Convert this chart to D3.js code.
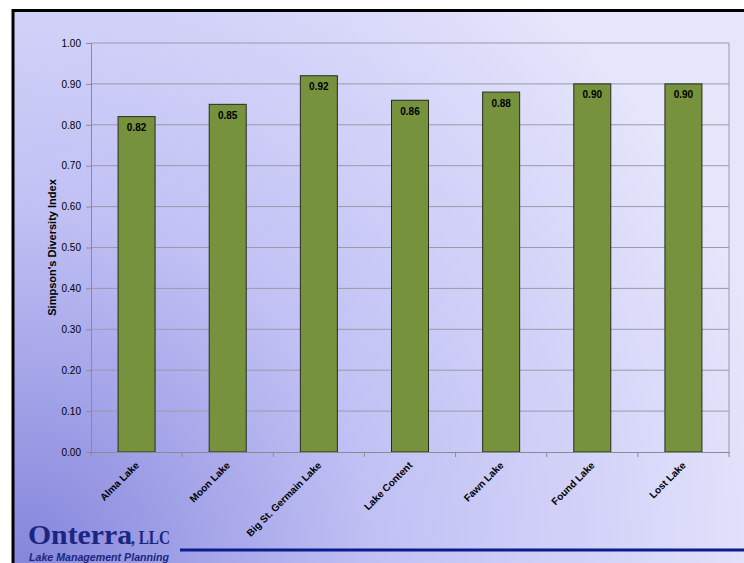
<!DOCTYPE html>
<html><head><meta charset="utf-8">
<script src="https://cdn.jsdelivr.net/npm/d3@7"></script>
<style>html,body{margin:0;padding:0;overflow:hidden;background:#fff}</style>
</head><body>
<script>
const categories = ["Alma Lake","Moon Lake","Big St. Germain Lake","Lake Content","Fawn Lake","Found Lake","Lost Lake"];
const values = [0.82,0.85,0.92,0.86,0.88,0.90,0.90];
const yTicks = [0,0.1,0.2,0.3,0.4,0.5,0.6,0.7,0.8,0.9,1.0];
const yTitle = "Simpson's Diversity Index";

const W=744,H=563;
const svg=d3.select("body").append("svg").attr("width",W).attr("height",H);
const defs=svg.append("defs");
const rg=defs.append("radialGradient").attr("id","bg").attr("gradientUnits","userSpaceOnUse")
  .attr("cx",20).attr("cy",563).attr("r",780);
rg.append("stop").attr("offset","0").attr("stop-color","#8585dc");
rg.append("stop").attr("offset","0.45").attr("stop-color","#c0c0f4");
rg.append("stop").attr("offset","0.75").attr("stop-color","#d4d4f9");
rg.append("stop").attr("offset","1").attr("stop-color","#e6e6fb");
svg.append("rect").attr("x",0).attr("y",0).attr("width",W).attr("height",H).attr("fill","#fff");
svg.append("rect").attr("x",12).attr("y",10).attr("width",W-12).attr("height",H-10).attr("fill","url(#bg)");
svg.append("path").attr("d","M13,563 V10.5 H744").attr("fill","none").attr("stroke","#000").attr("stroke-width",3);

const m={l:91,r:729,t:43,b:452};
const xb=d3.scaleBand().domain(categories).range([m.l,m.r]);
const y=d3.scaleLinear().domain([0,1]).range([m.b,m.t]);
const F="Arial, Liberation Sans, sans-serif";

svg.append("g").selectAll("line").data(yTicks.slice(1)).join("line")
  .attr("x1",m.l).attr("x2",m.r).attr("y1",d=>y(d)).attr("y2",d=>y(d))
  .attr("stroke","#9a9aa8").attr("stroke-width",1);
svg.append("line").attr("x1",m.r).attr("x2",m.r).attr("y1",m.t).attr("y2",m.b).attr("stroke","#9a9aa8");

const ya=svg.append("g").attr("transform",`translate(${m.l},0)`)
  .call(d3.axisLeft(y).tickValues(yTicks).tickFormat(d3.format(".2f")).tickSize(5).tickPadding(5));
ya.select(".domain").attr("stroke","#8a8a96");
ya.selectAll(".tick line").attr("stroke","#8a8a96");
ya.selectAll("text").attr("font-family",F).attr("font-size",10).attr("fill","#000");

svg.append("g").selectAll("rect").data(values).join("rect")
  .attr("x",(d,i)=>xb(categories[i])+xb.bandwidth()/2-18.5)
  .attr("width",37)
  .attr("y",d=>y(d)).attr("height",d=>m.b-y(d))
  .attr("fill","#77923c").attr("stroke","#2a2a20").attr("stroke-width",1);
svg.append("g").selectAll("text").data(values).join("text")
  .attr("x",(d,i)=>xb(categories[i])+xb.bandwidth()/2)
  .attr("y",d=>y(d)+14.5)
  .attr("text-anchor","middle")
  .attr("font-family",F).attr("font-size",10).attr("font-weight","bold")
  .text(d=>d3.format(".2f")(d));

const xa=svg.append("g").attr("transform",`translate(0,${m.b})`)
  .call(d3.axisBottom(xb).tickSize(0).tickFormat(""));
xa.select(".domain").attr("stroke","#8a8a96");
svg.append("g").selectAll("line").data(d3.range(categories.length+1)).join("line")
  .attr("x1",i=>m.l+i*xb.step()).attr("x2",i=>m.l+i*xb.step())
  .attr("y1",m.b).attr("y2",m.b+5).attr("stroke","#8a8a96");
svg.append("g").selectAll("text").data(categories).join("text")
  .attr("transform",d=>`translate(${xb(d)+xb.bandwidth()/2+3},${m.b+14}) rotate(-45)`)
  .attr("text-anchor","end")
  .attr("font-family",F).attr("font-size",10).attr("font-weight","bold")
  .text(d=>d);

svg.append("text").attr("transform",`translate(56,${(m.t+m.b)/2}) rotate(-90)`)
  .attr("text-anchor","middle")
  .attr("font-family",F).attr("font-size",11).attr("font-weight","bold")
  .text(yTitle);

// logo
svg.append("text").attr("x",28).attr("y",544)
  .attr("font-family","Liberation Serif, Times New Roman, serif").attr("font-size",27).attr("font-weight","bold").attr("fill","#1a2680")
  .attr("textLength",104).attr("lengthAdjust","spacingAndGlyphs")
  .text("Onterra");
svg.append("text").attr("x",131).attr("y",544)
  .attr("font-family","Liberation Serif, Times New Roman, serif").attr("font-size",19).attr("font-weight","bold").attr("fill","#1a2680")
  .attr("textLength",39).attr("lengthAdjust","spacingAndGlyphs")
  .text(", LLC");
svg.append("text").attr("x",29).attr("y",561)
  .attr("font-family",F).attr("font-size",11).attr("font-style","italic").attr("font-weight","bold").attr("fill","#1a2680")
  .attr("textLength",140).attr("lengthAdjust","spacingAndGlyphs")
  .text("Lake Management Planning");
svg.append("line").attr("x1",180).attr("x2",744).attr("y1",550).attr("y2",550).attr("stroke","#0c1c8c").attr("stroke-width",3);
</script>
</body></html>
